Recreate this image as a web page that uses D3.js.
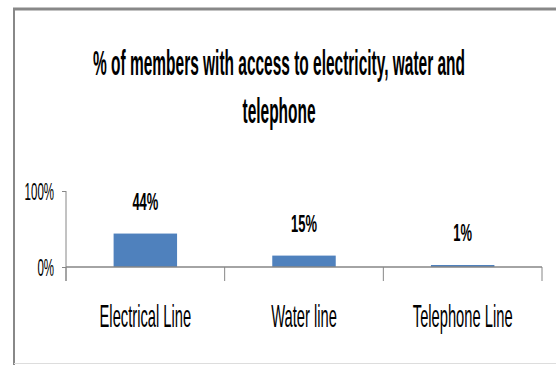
<!DOCTYPE html>
<html>
<head>
<meta charset="utf-8">
<script src="https://cdn.jsdelivr.net/npm/d3@7"></script>
<style>
  body { margin: 0; background: #fff; }
  text { font-family: "Liberation Sans", Arial, sans-serif; fill: #000; }
</style>
</head>
<body>
<div id="chart"></div>
<script>
// data
const categories = ["Electrical Line", "Water line", "Telephone Line"]
const shares = [0.44, 0.15, 0.01]
const yTicks = [0, 1]
const titleLines = ["% of members with access to electricity, water and", "telephone"]

const width = 556
const height = 365
const plot = { left: 66, right: 542, top: 191, bottom: 267 }

const svg = d3.select("#chart")
    .append("svg")
        .attr("width", width)
        .attr("height", height)

// chart border (like the Excel frame, partly cropped)
svg.append("line")
    .attr("x1", 13).attr("x2", width)
    .attr("y1", 9).attr("y2", 9)
    .attr("stroke", "#888").attr("stroke-width", 3)
svg.append("line")
    .attr("x1", 14).attr("x2", 14)
    .attr("y1", 8).attr("y2", height)
    .attr("stroke", "#888").attr("stroke-width", 2)
svg.append("line")
    .attr("x1", 14).attr("x2", width)
    .attr("y1", 363.5).attr("y2", 363.5)
    .attr("stroke", "#ddd").attr("stroke-width", 1)

// scales
const xScale = d3.scaleBand()
    .domain(categories)
    .range([plot.left, plot.right])
    .paddingInner(0.6)
    .paddingOuter(0.3)

const yScale = d3.scaleLinear()
    .domain([0, 1])
    .range([plot.bottom, plot.top])

// condensed look: squeeze text horizontally
const squeeze = (sel, x, y, sx) => sel
    .attr("transform", `translate(${x},${y}) scale(${sx},1)`)

// title
titleLines.forEach((line, i) => {
    svg.append("text")
        .attr("text-anchor", "middle")
        .style("font-size", "36px")
        .style("font-weight", "bold")
        .call(squeeze, 279, 75 + i * 48, 0.43)
        .text(line)
})

// bars
const bars = svg.append("g")
bars.selectAll("rect")
    .data(shares)
    .join("rect")
        .attr("x", (d, i) => xScale(categories[i]))
        .attr("width", xScale.bandwidth())
        .attr("y", d => Math.min(yScale(d), plot.bottom - 2))
        .attr("height", d => Math.max(2, plot.bottom - yScale(d)))
        .attr("fill", "#4f81bd")

// value labels
bars.selectAll("text")
    .data(shares)
    .join("text")
        .attr("text-anchor", "middle")
        .style("font-size", "24px")
        .style("font-weight", "bold")
        .each(function(d, i) {
            d3.select(this).call(squeeze,
                xScale(categories[i]) + xScale.bandwidth() / 2,
                Math.min(yScale(d), plot.bottom - 2) - 24, 0.54)
        })
        .text(d3.format(".0%"))

// y axis
const yAxis = svg.append("g")
    .attr("transform", `translate(${plot.left},0)`)
    .call(d3.axisLeft(yScale)
        .tickValues(yTicks)
        .tickFormat(d3.format(".0%"))
        .tickSizeInner(4)
        .tickSizeOuter(0))
yAxis.select(".domain").remove()
yAxis.selectAll(".tick line").attr("stroke", "#868686")
yAxis.selectAll(".tick text")
    .attr("x", 0)
    .attr("dy", "0.36em")
    .style("font-size", "23px")
    .attr("font-family", null)
    .call(squeeze, -12, 0, 0.5)
yAxis.append("line")
    .attr("y1", plot.top).attr("y2", plot.bottom + 14)
    .attr("stroke", "#868686").attr("stroke-width", 1)

// x axis: line plus category dividers
const step = xScale.step()
const firstEdge = xScale(categories[0]) - (step - xScale.bandwidth()) / 2
svg.append("g")
    .selectAll("line")
    .data(d3.range(categories.length + 1))
    .join("line")
        .attr("x1", i => firstEdge + i * step)
        .attr("x2", i => firstEdge + i * step)
        .attr("y1", plot.bottom)
        .attr("y2", plot.bottom + 14)
        .attr("stroke", "#868686")
svg.append("line")
    .attr("x1", plot.left).attr("x2", plot.right)
    .attr("y1", plot.bottom).attr("y2", plot.bottom)
    .attr("stroke", "#868686").attr("stroke-width", 1.5)

// category labels
const xAxis = svg.append("g")
    .attr("transform", `translate(0,${plot.bottom})`)
    .call(d3.axisBottom(xScale).tickSize(0))
xAxis.select(".domain").remove()
xAxis.selectAll(".tick text")
    .attr("y", 0)
    .attr("dy", null)
    .attr("font-family", null)
    .style("font-size", "32px")
    .call(squeeze, 0, 60, 0.46)
</script>
</body>
</html>
